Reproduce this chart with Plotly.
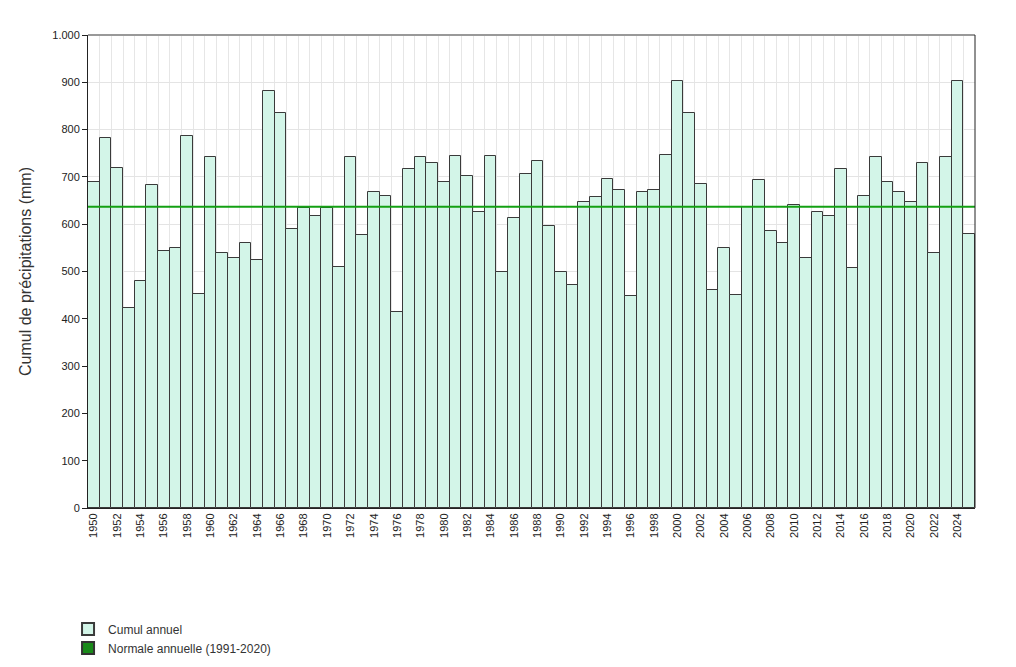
import plotly.graph_objects as go

years = list(range(1950, 2026))
cumul_annuel = [
    690, 782, 718, 423, 480, 682, 544, 549, 786, 453,  # 1950-1959
    742, 540, 528, 561, 525, 882, 836, 589, 634, 617,  # 1960-1969
    634, 509, 742, 577, 669, 660, 415, 717, 743, 729,  # 1970-1979
    690, 745, 702, 626, 745, 500, 613, 707, 733, 596,  # 1980-1989
    500, 472, 646, 657, 695, 672, 449, 669, 672, 746,  # 1990-1999
    903, 836, 686, 460, 549, 450, 636, 693, 585, 561,  # 2000-2009
    641, 528, 625, 617, 717, 507, 660, 742, 690, 669,  # 2010-2019
    646, 730, 540, 742, 903, 580,                      # 2020-2025
]
normale_annuelle = 637
y_ticks = [0, 100, 200, 300, 400, 500, 600, 700, 800, 900, 1000]
y_tick_labels = ["0", "100", "200", "300", "400", "500", "600", "700", "800", "900", "1.000"]
x_ticks = list(range(1950, 2026, 2))

font_family = "Liberation Sans, Arial, sans-serif"

fig = go.Figure()

fig.add_trace(go.Bar(
    x=years, y=cumul_annuel, name="Cumul annuel",
    marker=dict(color="#d3f5e8", line=dict(color="#3a3a3a", width=1)),
    width=1.0,
))

# normal line spanning the full plot width, on a hidden overlaying axis
fig.add_trace(go.Scatter(
    x=[0, 1], y=[normale_annuelle, normale_annuelle], xaxis="x2",
    mode="lines", line=dict(color="#13a013", width=2), showlegend=False,
    hoverinfo="skip",
))
# legend entry for the normal (square symbol)
fig.add_trace(go.Scatter(
    x=[None], y=[None], mode="markers", name="Normale annuelle (1991-2020)",
    marker=dict(symbol="square", size=9, color="#1a8a1a", line=dict(color="#333", width=1)),
))

fig.update_layout(
    width=1016, height=667,
    margin=dict(l=80, r=49, t=27, b=150),
    paper_bgcolor="white", plot_bgcolor="white",
    bargap=0,
    font=dict(family=font_family, size=11, color="#222"),
    showlegend=True,
    legend=dict(
        x=-0.0225, y=-0.225, xanchor="left", yanchor="top",
        font=dict(family=font_family, size=12, color="#333"),
        itemsizing="constant", tracegroupgap=0, itemwidth=30,
        bgcolor="rgba(0,0,0,0)",
    ),
    xaxis=dict(
        range=[1949.5, 2025.5],
        tickmode="array", tickvals=x_ticks, ticktext=[str(v) for v in x_ticks],
        tickangle=-90, tickfont=dict(size=11, color="#222"),
        showgrid=False, zeroline=False,
        showline=True, linecolor="#222", linewidth=1,
        ticks="", ticklen=0,
        minor=dict(tickmode="linear", tick0=1949.5, dtick=1, showgrid=True,
                   gridcolor="#e6e6e6", gridwidth=1),
    ),
    xaxis2=dict(range=[0, 1], overlaying="x", visible=False),
    yaxis=dict(
        range=[0, 1000],
        tickmode="array", tickvals=y_ticks, ticktext=y_tick_labels,
        tickfont=dict(size=11, color="#222"),
        ticks="outside", ticklen=5, tickcolor="#222",
        showgrid=True, gridcolor="#e4e4e4", gridwidth=1,
        zeroline=False, showline=True, linecolor="#222", linewidth=1,
        title=dict(text="Cumul de précipitations (mm)", font=dict(size=16, color="#333"), standoff=16),
    ),
    shapes=[
        dict(type="line", xref="paper", yref="paper", x0=0, x1=1, y0=1, y1=1,
             line=dict(color="#999999", width=2)),
        dict(type="line", xref="paper", yref="paper", x0=1, x1=1, y0=0, y1=1,
             line=dict(color="#222", width=1)),
    ],
)

fig.write_html("out.html")
